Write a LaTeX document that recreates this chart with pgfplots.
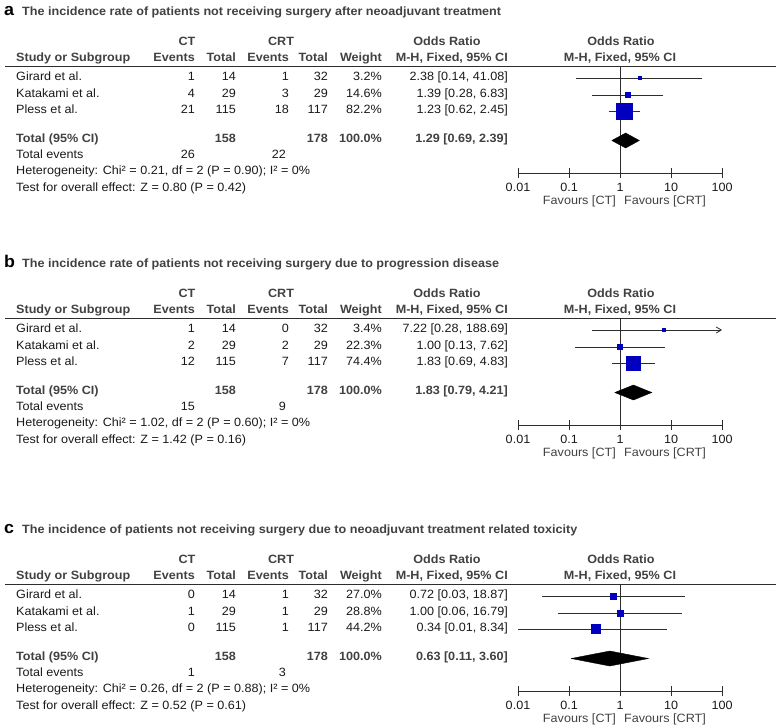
\documentclass[border=0pt]{standalone}
\usepackage{fontspec}
\setmainfont[FakeStretch=1.05]{Liberation Sans}
\usepackage{pgfplots}
\pgfplotsset{compat=1.18}
\usetikzlibrary{arrows.meta}
\definecolor{txt}{RGB}{25,25,25}
\definecolor{hdr}{RGB}{65,65,65}
\definecolor{sq}{RGB}{0,0,190}
\definecolor{ln}{RGB}{45,45,45}
\newcommand\fs{\fontsize{12}{14}\selectfont}

\newcommand\fprow[8]{%
 \node[anchor=mid west] at (16,{-(#1)}) {#2};
 \node[anchor=mid east] at (195,{-(#1)}) {#3};
 \node[anchor=mid east] at (236,{-(#1)}) {#4};
 \node[anchor=mid east] at (289,{-(#1)}) {#5};
 \node[anchor=mid east] at (328,{-(#1)}) {#6};
 \node[anchor=mid east] at (382,{-(#1)}) {#7};
 \node[anchor=mid east] at (508,{-(#1)}) {#8};
}
\newcommand\fphead[3]{% T letter title
 \node[anchor=base west,font=\fontsize{17}{18}\selectfont\bfseries,text=black] at (4,{-(#1+5)}) {#2};
 \node[anchor=base west,font=\fs\bfseries,text=hdr] at (22,{-(#1+5)}) {#3};
 \begin{scope}[font=\fs\bfseries,text=hdr]
 \node[anchor=mid] at (187,{-(#1+33)}) {CT};
 \node[anchor=mid] at (281,{-(#1+33)}) {CRT};
 \node[anchor=mid] at (447,{-(#1+33)}) {Odds Ratio};
 \node[anchor=mid] at (621,{-(#1+33)}) {Odds Ratio};
 \node[anchor=mid west] at (16,{-(#1+49)}) {Study or Subgroup};
 \node[anchor=mid east] at (195,{-(#1+49)}) {Events};
 \node[anchor=mid east] at (236,{-(#1+49)}) {Total};
 \node[anchor=mid east] at (289,{-(#1+49)}) {Events};
 \node[anchor=mid east] at (328,{-(#1+49)}) {Total};
 \node[anchor=mid east] at (382,{-(#1+49)}) {Weight};
 \node[anchor=mid east] at (508,{-(#1+49)}) {M-H, Fixed, 95\% CI};
 \node[anchor=mid] at (620,{-(#1+49)}) {M-H, Fixed, 95\% CI};
 \end{scope}
 \draw[ln,line width=0.9pt] (5,{-(#1+56)}) -- (776,{-(#1+56)});
}
\newcommand\fpfoot[6]{% T e1 e2 het test totalOR
 \begin{scope}[font=\fs\bfseries,text=hdr]
 \node[anchor=mid west] at (16,{-(#1+130)}) {Total (95\% CI)};
 \node[anchor=mid east] at (236,{-(#1+130)}) {158};
 \node[anchor=mid east] at (328,{-(#1+130)}) {178};
 \node[anchor=mid east] at (382,{-(#1+130)}) {100.0\%};
 \node[anchor=mid east] at (508,{-(#1+130)}) {#6};
 \end{scope}
 \node[anchor=mid west] at (16,{-(#1+146)}) {Total events};
 \node[anchor=mid east] at (195,{-(#1+146)}) {#2};
 \node[anchor=mid east] at (286,{-(#1+146)}) {#3};
 \node[anchor=mid west] at (16,{-(#1+162)}) {#4};
 \node[anchor=mid west] at (16,{-(#1+179)}) {#5};
 \node[anchor=mid east,text=hdr] at (616,{-(#1+192)}) {Favours [CT]};
 \node[anchor=mid west,text=hdr] at (624,{-(#1+192)}) {Favours [CRT]};
}

\begin{document}
\begin{tikzpicture}[x=1pt,y=1pt]
\useasboundingbox (0,0) rectangle (778,-724);
\begin{scope}[font=\fs,text=txt,inner sep=0pt]
\fphead{10}{a}{The incidence rate of patients not receiving surgery after neoadjuvant treatment}
\fprow{78}{Girard et al.}{1}{14}{1}{32}{3.2\%}{2.38 [0.14, 41.08]}
\fprow{95}{Katakami et al.}{4}{29}{3}{29}{14.6\%}{1.39 [0.28, 6.83]}
\fprow{111}{Pless et al.}{21}{115}{18}{117}{82.2\%}{1.23 [0.62, 2.45]}
\fpfoot{10}{26}{22}{Heterogeneity: Chi² = 0.21, df = 2 (P = 0.90); I² = 0\%}{Test for overall effect: Z = 0.80 (P = 0.42)}{1.29 [0.69, 2.39]}
\fphead{262}{b}{The incidence rate of patients not receiving surgery due to progression disease}
\fprow{330}{Girard et al.}{1}{14}{0}{32}{3.4\%}{7.22 [0.28, 188.69]}
\fprow{347}{Katakami et al.}{2}{29}{2}{29}{22.3\%}{1.00 [0.13, 7.62]}
\fprow{363}{Pless et al.}{12}{115}{7}{117}{74.4\%}{1.83 [0.69, 4.83]}
\fpfoot{262}{15}{9}{Heterogeneity: Chi² = 1.02, df = 2 (P = 0.60); I² = 0\%}{Test for overall effect: Z = 1.42 (P = 0.16)}{1.83 [0.79, 4.21]}
\fphead{528}{c}{The incidence of patients not receiving surgery due to neoadjuvant treatment related toxicity}
\fprow{596}{Girard et al.}{0}{14}{1}{32}{27.0\%}{0.72 [0.03, 18.87]}
\fprow{613}{Katakami et al.}{1}{29}{1}{29}{28.8\%}{1.00 [0.06, 16.79]}
\fprow{629}{Pless et al.}{0}{115}{1}{117}{44.2\%}{0.34 [0.01, 8.34]}
\fpfoot{528}{1}{3}{Heterogeneity: Chi² = 0.26, df = 2 (P = 0.88); I² = 0\%}{Test for overall effect: Z = 0.52 (P = 0.61)}{0.63 [0.11, 3.60]}
\end{scope}

% ---------- panel a ----------
\begin{axis}[at={(518pt,-173pt)}, anchor=south west,
 xmode=log, xmin=0.01, xmax=100, ymin=-163, ymax=-56,
 scale only axis, width=204pt, height=107pt,
 axis x line*=bottom, axis y line=none, ytick=\empty,
 xtick={0.01,0.1,1,10,100}, xticklabels={0.01,0.1,1,10,100},
 xminorticks=false, tick align=center, major tick length=10pt,
 x axis line style={ln, line width=1pt}, xtick style={ln, line width=1pt},
 xticklabel style={font=\fs, text=txt, yshift=-2pt}, clip=false]
\addplot[ln, line width=0.8pt] coordinates {(1,-56) (1,-163)};
\addplot[ln, line width=0.8pt] coordinates {(0.14,-68) (41.08,-68)};
\addplot[ln, line width=0.8pt] coordinates {(0.28,-85) (6.83,-85)};
\addplot[ln, line width=0.8pt] coordinates {(0.62,-101) (2.45,-101)};
\addplot[only marks, mark=square*, sq, mark size=1.5pt] coordinates {(2.38,-68)};
\addplot[only marks, mark=square*, sq, mark size=2.6pt] coordinates {(1.39,-85)};
\addplot[only marks, mark=square*, sq, mark size=8pt] coordinates {(1.23,-101)};
\addplot[fill=black, draw=black] coordinates {(0.69,-130.5) (1.29,-123) (2.39,-130.5) (1.29,-138) (0.69,-130.5)};
\end{axis}

% ---------- panel b ----------
\begin{axis}[at={(518pt,-425pt)}, anchor=south west,
 xmode=log, xmin=0.01, xmax=100, ymin=-163, ymax=-56,
 scale only axis, width=204pt, height=107pt,
 axis x line*=bottom, axis y line=none, ytick=\empty,
 xtick={0.01,0.1,1,10,100}, xticklabels={0.01,0.1,1,10,100},
 xminorticks=false, tick align=center, major tick length=10pt,
 x axis line style={ln, line width=1pt}, xtick style={ln, line width=1pt},
 xticklabel style={font=\fs, text=txt, yshift=-2pt}, clip=false]
\addplot[ln, line width=0.8pt] coordinates {(1,-56) (1,-163)};
\addplot[ln, line width=0.8pt, -{Straight Barb[length=5pt,width=6pt]}] coordinates {(0.28,-68) (100,-68)};
\addplot[ln, line width=0.8pt] coordinates {(0.13,-85) (7.62,-85)};
\addplot[ln, line width=0.8pt] coordinates {(0.69,-101) (4.83,-101)};
\addplot[only marks, mark=square*, sq, mark size=1.5pt] coordinates {(7.22,-68)};
\addplot[only marks, mark=square*, sq, mark size=2.6pt] coordinates {(1.00,-85)};
\addplot[only marks, mark=square*, sq, mark size=7.2pt] coordinates {(1.83,-101)};
\addplot[fill=black, draw=black] coordinates {(0.79,-130.5) (1.83,-123) (4.21,-130.5) (1.83,-138) (0.79,-130.5)};
\end{axis}

% ---------- panel c ----------
\begin{axis}[at={(518pt,-691pt)}, anchor=south west,
 xmode=log, xmin=0.01, xmax=100, ymin=-163, ymax=-56,
 scale only axis, width=204pt, height=107pt,
 axis x line*=bottom, axis y line=none, ytick=\empty,
 xtick={0.01,0.1,1,10,100}, xticklabels={0.01,0.1,1,10,100},
 xminorticks=false, tick align=center, major tick length=10pt,
 x axis line style={ln, line width=1pt}, xtick style={ln, line width=1pt},
 xticklabel style={font=\fs, text=txt, yshift=-2pt}, clip=false]
\addplot[ln, line width=0.8pt] coordinates {(1,-56) (1,-163)};
\addplot[ln, line width=0.8pt] coordinates {(0.03,-68) (18.87,-68)};
\addplot[ln, line width=0.8pt] coordinates {(0.06,-85) (16.79,-85)};
\addplot[ln, line width=0.8pt] coordinates {(0.01,-101) (8.34,-101)};
\addplot[only marks, mark=square*, sq, mark size=3pt] coordinates {(0.72,-68)};
\addplot[only marks, mark=square*, sq, mark size=3.2pt] coordinates {(1.00,-85)};
\addplot[only marks, mark=square*, sq, mark size=4.5pt] coordinates {(0.34,-101)};
\addplot[fill=black, draw=black] coordinates {(0.11,-130.5) (0.63,-123) (3.60,-130.5) (0.63,-138) (0.11,-130.5)};
\end{axis}
\end{tikzpicture}
\end{document}
